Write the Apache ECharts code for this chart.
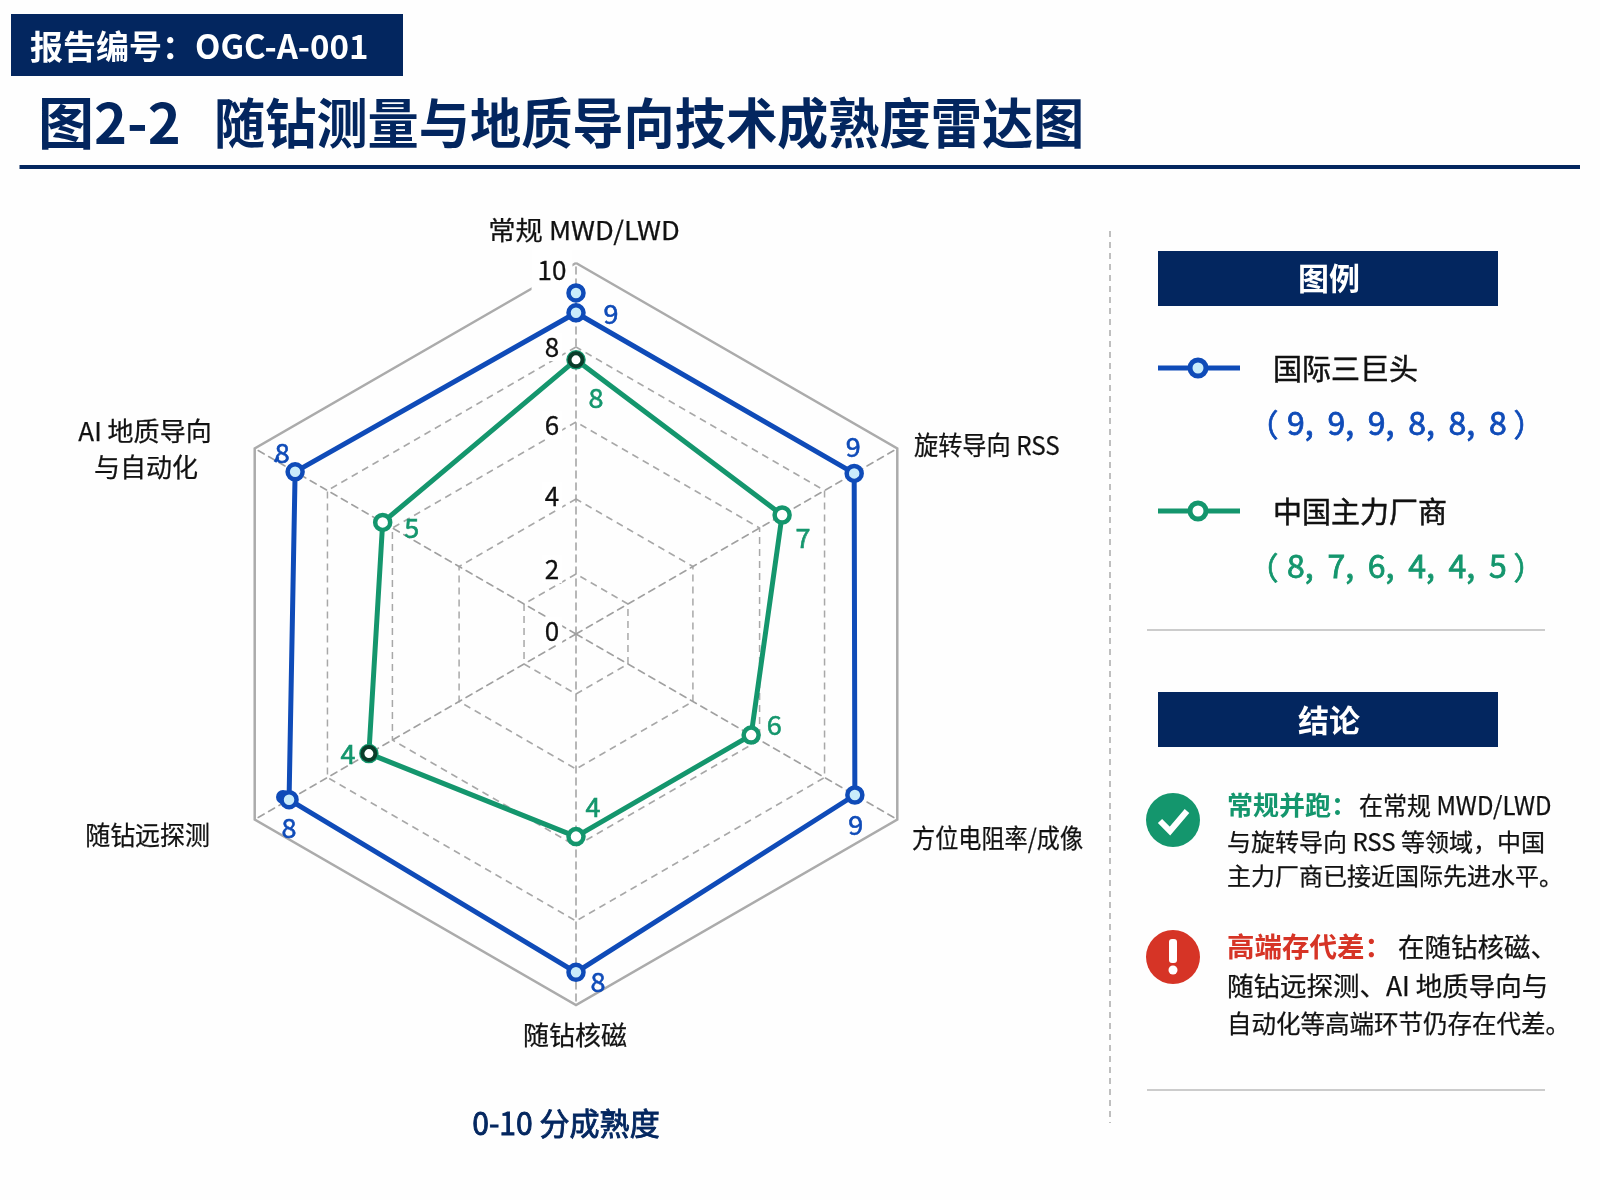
<!DOCTYPE html>
<html><head><meta charset="utf-8">
<style>html,body{margin:0;padding:0;background:#fff}#c{width:1600px;height:1200px}</style>
<script src="https://cdn.jsdelivr.net/npm/echarts@6/dist/echarts.min.js"></script>
</head><body><div id="c"></div>
<script>
// ---- data ----
const categories = ['常规 MWD/LWD','旋转导向 RSS','方位电阻率/成像','随钻核磁','随钻远探测','AI 地质导向\n与自动化'];
const seriesNames = ['国际三巨头','中国主力厂商'];
const intlScores = [9,9,9,8,8,8];
const chinaScores = [8,7,6,4,4,5];
// plotted positions as read against the rings of the picture
const intlPlotted = [8.72,8.72,8.74,9.16,8.98,8.8];
const chinaPlotted = [7.51,6.58,5.66,5.67,6.61,6.2];
const strayPoint = 9.23;
const tickLabels = [0,2,4,6,8,10];

// ---- layout ----
const F = '"Noto Sans CJK SC","Noto Sans",sans-serif';
const NAVY = '#03265f', BLUE = '#0f4bb8', GREEN = '#14966d', RED = '#d63426', LIGHT = '#c9ecfb';
const C = [576,634], R = 371;
const AXIS_MIN = 0.46;
const ringRadius = [60,135,212,287];
const tickLabelY = [631,569,496,425,347,270];
const r = v => (v-AXIS_MIN)/(10-AXIS_MIN)*R;
const pt = (i,v) => { const a = i*Math.PI/3; return [C[0]+r(v)*Math.sin(a), C[1]-r(v)*Math.cos(a)]; };
// the radar lays its indicators out anticlockwise; the picture runs clockwise
const radarOrder = v => [v[0],v[5],v[4],v[3],v[2],v[1]];

const txt = (x,y,text,size,color,o={}) => {
  const el = {type:'text',x,y,z:o.z||5,silent:true,style:Object.assign({
    text,fontSize:size,fill:color,fontFamily:F,fontWeight:o.bold?700:400,
    align:o.align||'left',verticalAlign:'middle'},
    o.med?{stroke:color,lineWidth:o.med}:{},o.style||{})};
  if(o.sx) el.scaleX = o.sx;
  return el;
};
const rect = (x,y,w,h,fill) => ({type:'rect',z:4,silent:true,shape:{x,y,width:w,height:h},style:{fill}});
const line = (x1,y1,x2,y2,stroke,lw,dash) => ({type:'line',z:4,silent:true,shape:{x1,y1,x2,y2},style:{stroke,lineWidth:lw,lineDash:dash||null}});
const ring = (c,rad,fill,stroke,lw,z) => ({type:'circle',z,silent:true,shape:{cx:c[0],cy:c[1],r:rad},style:{fill,stroke,lineWidth:lw}});

const g = [];
// header
g.push(rect(11,14,392,62,NAVY));
g.push(txt(30,46,'报告编号：OGC-A-001',33,'#fff',{bold:true}));
g.push(txt(38,123,'图2-2',56,NAVY,{bold:true}));
g.push(txt(214,123,'随钻测量与地质导向技术成熟度雷达图',54,NAVY,{bold:true,sx:0.948}));
g.push(rect(19.5,165,1560.5,4,NAVY));
// separator
g.push(line(1110,231,1110,1123,'#aaaaaa',1.5,[6,5]));
// axis names
const nameMed = 0.25;
g.push(txt(584,230,categories[0],26,'#111',{align:'center',sx:1.05,med:nameMed}));
g.push(txt(914,445,categories[1],26,'#111',{sx:0.93,med:nameMed}));
g.push(txt(912,838,categories[2],26,'#111',{sx:0.89,med:nameMed}));
g.push(txt(575,1035,categories[3],26,'#111',{align:'center',med:nameMed}));
g.push(txt(210,835,categories[4],26,'#111',{align:'right',sx:0.96,med:nameMed}));
const aiLines = categories[5].split('\n');
g.push(txt(145,431,aiLines[0],26,'#111',{align:'center',med:nameMed}));
g.push(txt(146,467,aiLines[1],26,'#111',{align:'center',med:nameMed}));
// tick labels
tickLabels.forEach((t,i)=>{
  g.push(txt(552,tickLabelY[i],String(t),26,'#111',{align:'center',z:3,med:0.3,
    style:{backgroundColor:'#fff',padding:i===5?[6,6,8,6]:[1,3]}}));
});
// value labels
const blueOff = [[35,1],[-1,-27],[1,30],[22,9],[0,28],[-13,-19]];
const greenOff = [[20,38],[21,23],[23,-10],[17,-30],[-21,0],[29,5]];
intlScores.forEach((v,i)=>{const p=pt(i,intlPlotted[i]);g.push(txt(p[0]+blueOff[i][0],p[1]+blueOff[i][1],String(v),27,BLUE,{align:'center',med:0.6}));});
chinaScores.forEach((v,i)=>{const p=pt(i,chinaPlotted[i]);g.push(txt(p[0]+greenOff[i][0],p[1]+greenOff[i][1],String(v),27,GREEN,{align:'center',med:0.6}));});
// small artefacts on the markers
g.push(ring(pt(0,strayPoint),7.5,LIGHT,BLUE,4.5,5));
g.push(ring(pt(0,chinaPlotted[0]),6.5,'#fff','#0a3d2a',4,5));
g.push(ring(pt(4,chinaPlotted[4]),6.5,'#fff','#0a3d2a',4,5));
g.push(line(275,462,278,457,BLUE,3));
g.push(ring([283,797],7,BLUE,BLUE,0,2));
g.push(txt(566,1123,'0-10 分成熟度',31,NAVY,{align:'center',med:0.9,sx:0.97}));

// legend panel
g.push(rect(1158,251,340,55,NAVY));
g.push(txt(1329,278,'图例',31,'#fff',{align:'center',bold:true}));
const legendRow=(y,name,vals,color,fill)=>{
  g.push(line(1158,y,1240,y,color,5));
  g.push(ring([1198,y],8,fill,color,5,5));
  g.push(txt(1273,y+1,name,29,'#111',{med:0.5}));
  g.push(txt(1263,y+56,'（',31,color,{align:'center',med:0.7}));
  vals.forEach((v,i)=>g.push(txt(1287+40.4*i,y+55,v+(i<vals.length-1?',':''),32,color,{med:0.8})));
  g.push(txt(1529,y+56,'）',31,color,{align:'center',med:0.7}));
};
legendRow(368,seriesNames[0],intlScores,BLUE,LIGHT);
legendRow(511,seriesNames[1],chinaScores,GREEN,'#ffffff');
g.push(line(1147,630,1545,630,'#cccccc',2));

// conclusion panel
g.push(rect(1158,692,340,55,NAVY));
g.push(txt(1329,720,'结论',31,'#fff',{align:'center',bold:true}));
g.push({type:'circle',z:4,silent:true,shape:{cx:1173,cy:820,r:27},style:{fill:GREEN}});
g.push({type:'polyline',z:5,silent:true,shape:{points:[[1160,821],[1170,831],[1187,811]]},style:{stroke:'#fff',lineWidth:6,fill:null}});
g.push(txt(1227,805,'常规并跑：',26,GREEN,{bold:true}));
g.push(txt(1359,805,'在常规 MWD/LWD',25,'#111',{sx:0.96,med:0.25}));
g.push(txt(1227,842,'与旋转导向 RSS 等领域，中国',24,'#111',{med:0.25}));
g.push(txt(1227,876,'主力厂商已接近国际先进水平。',24,'#111',{med:0.25}));
g.push({type:'circle',z:4,silent:true,shape:{cx:1173,cy:957,r:27},style:{fill:RED}});
g.push({type:'rect',z:5,silent:true,shape:{x:1169,y:939,width:8,height:24,r:3},style:{fill:'#fff'}});
g.push({type:'circle',z:5,silent:true,shape:{cx:1173,cy:970,r:4.5},style:{fill:'#fff'}});
g.push(txt(1227,947,'高端存代差：',27.5,RED,{bold:true}));
g.push(txt(1398,947,'在随钻核磁、',26.5,'#111',{med:0.25}));
g.push(txt(1227,986,'随钻远探测、AI 地质导向与',26.5,'#111',{med:0.25}));
g.push(txt(1227,1024,'自动化等高端环节仍存在代差。',24.5,'#111',{med:0.25}));
g.push(line(1147,1090,1545,1090,'#cccccc',2));

// ---- chart ----
const ind = (min,max)=>categories.map(()=>({name:'',min,max}));
const ringRadars = ringRadius.map(rad=>({
  center:C,radius:rad,startAngle:90,splitNumber:1,
  indicator:ind(0,1),axisName:{show:false},
  axisLine:{show:false},splitArea:{show:false},axisTick:{show:false},
  splitLine:{lineStyle:{color:'#a8a8a8',width:1.5,type:[7,5]}}
}));
const mainRadar = {
  center:C,radius:R,startAngle:90,splitNumber:1,
  indicator:ind(AXIS_MIN,10),axisName:{show:false},
  axisLine:{lineStyle:{color:'#a0a0a0',width:1.5,type:[7,5]}},
  axisTick:{show:false},splitArea:{show:false},
  splitLine:{lineStyle:{color:'#ababab',width:2.5}}
};
const radarIdx = ringRadars.length;
const mk = (name,vals,color,fill)=>({
  type:'radar',radarIndex:radarIdx,name,symbol:'circle',symbolSize:15,z:3,
  lineStyle:{color,width:5},
  itemStyle:{color:fill,borderColor:color,borderWidth:4.5},
  data:[{value:radarOrder(vals),name}]
});
const chart = echarts.init(document.getElementById('c'),null,{renderer:'canvas'});
chart.setOption({
  animation:false,backgroundColor:'#fefefe',
  radar:[...ringRadars,mainRadar],
  series:[
    mk(seriesNames[0],intlPlotted,BLUE,LIGHT),
    mk(seriesNames[1],chinaPlotted,GREEN,'#ffffff')
  ],
  graphic:{elements:g}
});
</script></body></html>
